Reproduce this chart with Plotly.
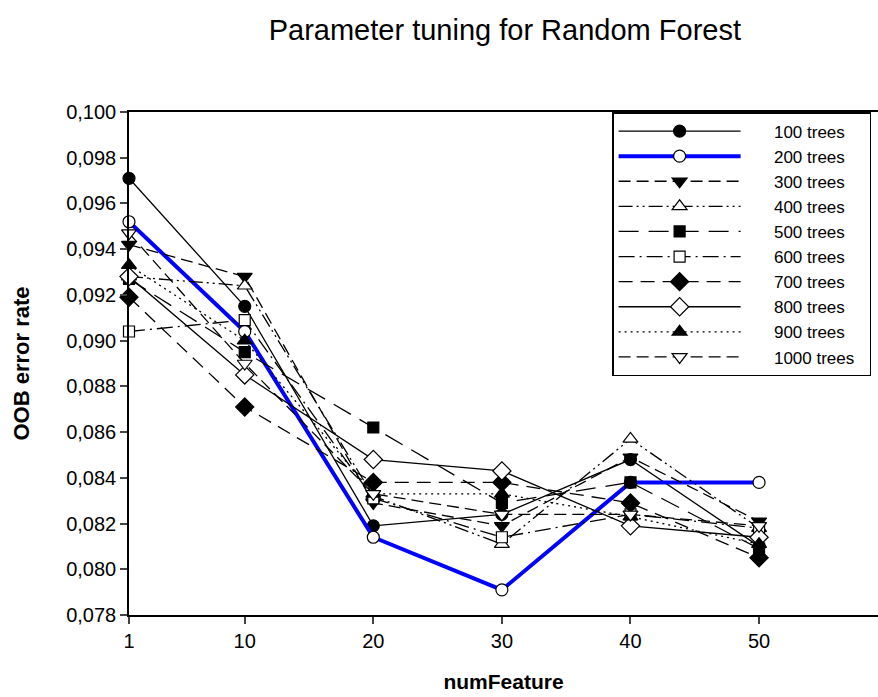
import plotly.graph_objects as go

# OOB error rate of a Random Forest for different numbers of trees
num_feature = [1, 10, 20, 30, 40, 50]

trees_100 = [0.0971, 0.0915, 0.0819, 0.0824, 0.0848, 0.0810]
trees_200 = [0.0952, 0.0904, 0.0814, 0.0791, 0.0838, 0.0838]
trees_300 = [0.0942, 0.0928, 0.0829, 0.0819, 0.0849, 0.0821]
trees_400 = [0.0928, 0.0924, 0.0832, 0.0811, 0.0857, 0.0818]
trees_500 = [0.0927, 0.0895, 0.0862, 0.0829, 0.0838, 0.0809]
trees_600 = [0.0904, 0.0909, 0.0831, 0.0814, 0.0824, 0.0818]
trees_700 = [0.0919, 0.0871, 0.0838, 0.0838, 0.0829, 0.0805]
trees_800 = [0.0928, 0.0885, 0.0848, 0.0843, 0.0819, 0.0814]
trees_900 = [0.0933, 0.0900, 0.0833, 0.0833, 0.0823, 0.0811]
trees_1000 = [0.0947, 0.0890, 0.0833, 0.0824, 0.0824, 0.0819]

series_names = ["100 trees", "200 trees", "300 trees", "400 trees", "500 trees",
                "600 trees", "700 trees", "800 trees", "900 trees", "1000 trees"]
series_values = [trees_100, trees_200, trees_300, trees_400, trees_500,
                 trees_600, trees_700, trees_800, trees_900, trees_1000]

# line colour, width, dash pattern, marker symbol, marker fill
styles = [
    ("black", 1.3, "solid", "circle", "black"),
    ("#0000FF", 4.0, "solid", "circle", "white"),
    ("black", 1.3, "12px,6px", "triangle-down", "black"),
    ("black", 1.3, "14px,4px,2px,4px,2px,4px", "triangle-up", "white"),
    ("black", 1.3, "20px,10px", "square", "black"),
    ("black", 1.3, "16px,5px,2px,5px", "square", "white"),
    ("black", 1.3, "14px,8px", "diamond", "black"),
    ("black", 1.3, "solid", "diamond", "white"),
    ("black", 1.3, "2px,4px", "triangle-up", "black"),
    ("black", 1.3, "12px,6px", "triangle-down", "white"),
]
marker_sizes = {"circle": 12, "triangle-down": 13, "triangle-up": 13,
                "square": 11, "diamond": 14}

FONT = "Arial, Liberation Sans, sans-serif"
PAD = "\u00a0" * 6   # gap between the legend sample and its label
TAIL = "\u00a0" * 2  # widens the legend box towards the right edge

fig = go.Figure()
for i, (name, vals) in enumerate(zip(series_names, series_values)):
    color, width, dash, symbol, fill = styles[i]
    fig.add_trace(go.Scatter(
        x=num_feature, y=vals, name=PAD + name + TAIL, mode="lines+markers",
        legendgroup=name,
        line=dict(color=color, width=width, dash=dash),
        marker=dict(symbol=symbol, size=marker_sizes[symbol], color=fill,
                    line=dict(color="black", width=1.2)),
        cliponaxis=False,
    ))

fig.update_layout(
    width=878, height=697,
    margin=dict(l=129, r=0, t=112, b=82),
    paper_bgcolor="white", plot_bgcolor="white",
    separators=",.",
    font=dict(family=FONT, size=20, color="black"),
    title=dict(text="Parameter tuning for Random Forest", x=0.575, xanchor="center",
               y=0.957, yanchor="middle", font=dict(size=29, family=FONT)),
    showlegend=True,
    legend=dict(x=0.645, y=1.0, xanchor="left", yanchor="top",
                bgcolor="white", bordercolor="black", borderwidth=1.5,
                font=dict(size=17, family=FONT), itemwidth=122,
                traceorder="grouped", tracegroupgap=0,
                itemsizing="trace"),
    xaxis=dict(range=[1, 59.25], tickvals=num_feature, ticks="outside", ticklen=7,
               tickwidth=1.5, showline=True, linewidth=1.5, linecolor="black",
               mirror=True, showgrid=False, zeroline=False,
               title=dict(text="<b>numFeature</b>", font=dict(size=21), standoff=24)),
    yaxis=dict(range=[0.078, 0.100], tick0=0.078, dtick=0.002, tickformat=".3f",
               ticks="outside", ticklen=7, tickwidth=1.5, showline=True,
               linewidth=1.5, linecolor="black", showgrid=False, zeroline=False,
               title=dict(text="<b>OOB error rate</b>", font=dict(size=22), standoff=30)),
)

fig.write_html("out.html")
